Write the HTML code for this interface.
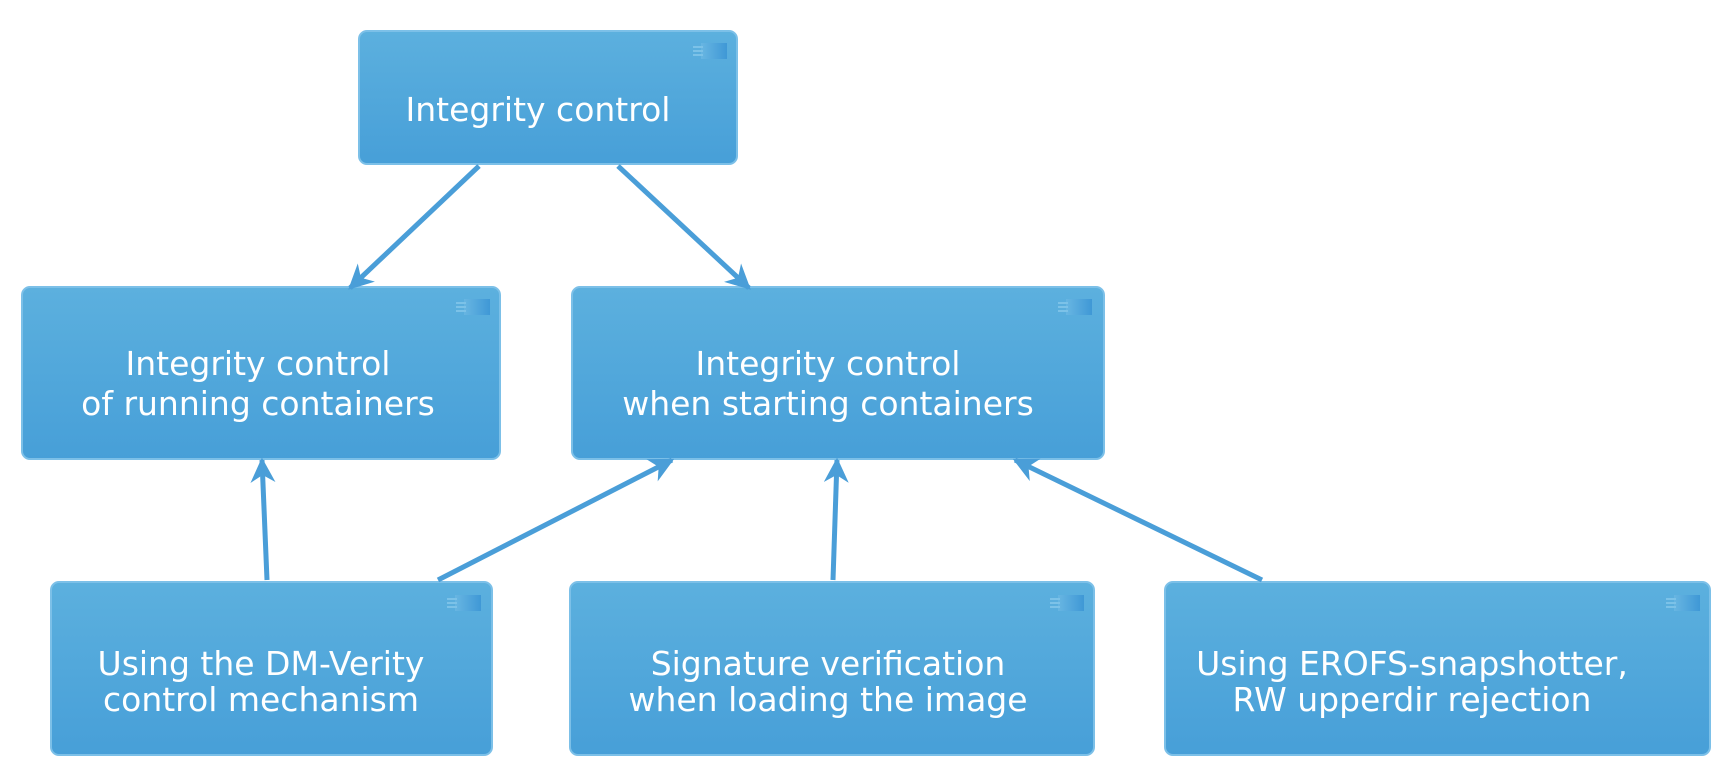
<!DOCTYPE html>
<html><head><meta charset="utf-8"><style>
html,body{margin:0;padding:0;background:#fff;}
svg{display:block;}
text{font-family:"DejaVu Sans","Liberation Sans",sans-serif;font-size:33px;fill:#fff;text-anchor:middle;}
</style></head><body>
<svg width="1726" height="774" viewBox="0 0 1726 774" xmlns="http://www.w3.org/2000/svg">
<defs>
<linearGradient id="g" x1="0" y1="0" x2="0" y2="1">
<stop offset="0" stop-color="#5CB0DE"/><stop offset="1" stop-color="#479FD8"/>
</linearGradient>
<linearGradient id="ic" x1="0" y1="0" x2="1" y2="0">
<stop offset="0" stop-color="#68B6E2"/><stop offset="1" stop-color="#3F98D6"/>
</linearGradient>
<marker id="a" viewBox="0 0 10 10" refX="9" refY="5" markerWidth="5" markerHeight="5" orient="auto" markerUnits="strokeWidth">
<path d="M0,0 L10,5 L0,10 L3,5 z" fill="#4A9ED8"/>
</marker>
<g id="icon"><rect x="8" y="0" width="26" height="16" fill="url(#ic)"/><rect x="0" y="3" width="10" height="2" fill="#7cc2e8"/><rect x="0" y="7" width="10" height="2" fill="#7cc2e8"/><rect x="0" y="11" width="10" height="2" fill="#7cc2e8"/></g>
</defs>
<g stroke="#7CC0E8" stroke-width="2" fill="url(#g)">
<rect x="359" y="31" width="378" height="133" rx="8"/>
<rect x="22" y="287" width="478" height="172" rx="8"/>
<rect x="572" y="287" width="532" height="172" rx="8"/>
<rect x="51" y="582" width="441" height="173" rx="8"/>
<rect x="570" y="582" width="524" height="173" rx="8"/>
<rect x="1165" y="582" width="545" height="173" rx="8"/>
</g>
<use href="#icon" x="693" y="43"/>
<use href="#icon" x="456" y="299"/>
<use href="#icon" x="1058" y="299"/>
<use href="#icon" x="447" y="595"/>
<use href="#icon" x="1050" y="595"/>
<use href="#icon" x="1666" y="595"/>
<g stroke="#4A9ED8" stroke-width="5" fill="none" marker-end="url(#a)">
<line x1="479" y1="166" x2="350" y2="288"/>
<line x1="618" y1="166" x2="749" y2="288"/>
<line x1="267" y1="580" x2="262" y2="460"/>
<line x1="438" y1="580" x2="672" y2="460"/>
<line x1="833" y1="580" x2="837" y2="460"/>
<line x1="1262" y1="580" x2="1015" y2="460"/>
</g>
<text x="538" y="121">Integrity control</text>
<text x="258" y="375">Integrity control</text>
<text x="258" y="415">of running containers</text>
<text x="828" y="375">Integrity control</text>
<text x="828" y="415">when starting containers</text>
<text x="261" y="675">Using the DM-Verity</text>
<text x="261" y="711">control mechanism</text>
<text x="828" y="675">Signature verification</text>
<text x="828" y="711">when loading the image</text>
<text x="1412" y="675">Using EROFS-snapshotter,</text>
<text x="1412" y="711">RW upperdir rejection</text>
</svg>
</body></html>
